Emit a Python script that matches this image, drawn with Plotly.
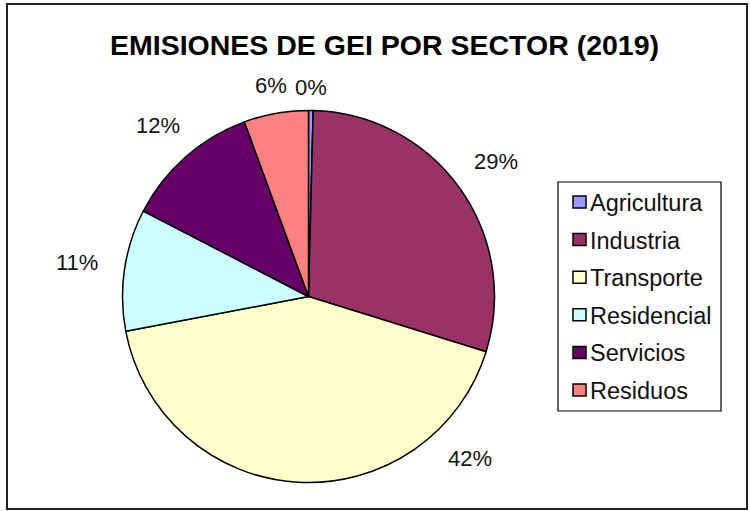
import math
import plotly.graph_objects as go

# GHG emissions share by sector, 2019 (percent)
sectors = ["Agricultura", "Industria", "Transporte", "Residencial", "Servicios", "Residuos"]
shares = [0.4, 29.4, 42.2, 10.6, 11.8, 5.6]
colors = ["#9999FF", "#993366", "#FFFFCC", "#CCFFFF", "#660066", "#FF8080"]

W, H = 750, 511
CX, CY, R = 308.5, 296.5, 186.0

# label angle overrides (degrees clockwise from 12 o'clock)
label_angle_override = {"Transporte": 135.0}


def px(x):
    return x / W


def py(y):
    return 1 - y / H


fig = go.Figure()
fig.add_trace(go.Pie(
    labels=sectors,
    values=shares,
    sort=False,
    direction="clockwise",
    rotation=0,
    textinfo="none",
    hoverinfo="label+percent",
    marker=dict(colors=colors, line=dict(color="#000000", width=1.5)),
    domain=dict(x=[px(CX - R), px(CX + R)], y=[py(CY + R), py(CY - R)]),
    showlegend=False,
))

annotations = []
shapes = []

# percentage labels outside each slice
total = sum(shares)
cum = 0.0
for name, v in zip(sectors, shares):
    mid = (cum + v / 2) / total * 360.0
    cum += v
    ang = label_angle_override.get(name, mid)
    t = math.radians(ang)
    s, c = math.sin(t), math.cos(t)
    d = R + 18 + 30 * abs(s) + 5 * abs(c)
    annotations.append(dict(
        x=px(CX + d * s), y=py(CY - d * c), xref="paper", yref="paper",
        text=f"{round(v / total * 100):.0f}%", showarrow=False,
        xanchor="center", yanchor="middle",
        font=dict(family="Liberation Sans, Arial, sans-serif", size=22, color="#111111"),
    ))

# title
annotations.append(dict(
    x=px(384), y=py(45), xref="paper", yref="paper",
    text="<b>EMISIONES DE GEI POR SECTOR (2019)</b>", showarrow=False,
    xanchor="center", yanchor="middle",
    font=dict(family="Liberation Sans, Arial, sans-serif", size=28.5, color="#000000"),
))

# legend box with swatches
LX0, LY0, LX1, LY1 = 558, 182, 721, 411
shapes.append(dict(type="rect", xref="paper", yref="paper",
                   x0=px(LX0), x1=px(LX1), y0=py(LY1), y1=py(LY0),
                   line=dict(color="#000000", width=1.2), fillcolor="#FFFFFF", layer="below"))
row_y0, row_step = 202, 37.6
for i, (name, col) in enumerate(zip(sectors, colors)):
    yc = row_y0 + i * row_step
    shapes.append(dict(type="rect", xref="paper", yref="paper",
                       x0=px(573), x1=px(586), y0=py(yc + 6), y1=py(yc - 6),
                       line=dict(color="#000000", width=1.5), fillcolor=col))
    annotations.append(dict(
        x=px(588), y=py(yc + 1), xref="paper", yref="paper",
        text=name, showarrow=False, xanchor="left", yanchor="middle",
        font=dict(family="Liberation Sans, Arial, sans-serif", size=23.5, color="#111111"),
    ))

# outer chart frame
shapes.append(dict(type="rect", xref="paper", yref="paper",
                   x0=px(7), x1=px(747), y0=py(509), y1=py(4),
                   line=dict(color="#222222", width=2)))

fig.update_layout(
    width=W, height=H,
    margin=dict(l=0, r=0, t=0, b=0),
    paper_bgcolor="#FFFFFF",
    plot_bgcolor="#FFFFFF",
    annotations=annotations,
    shapes=shapes,
    showlegend=False,
)

fig.write_html("out.html")
